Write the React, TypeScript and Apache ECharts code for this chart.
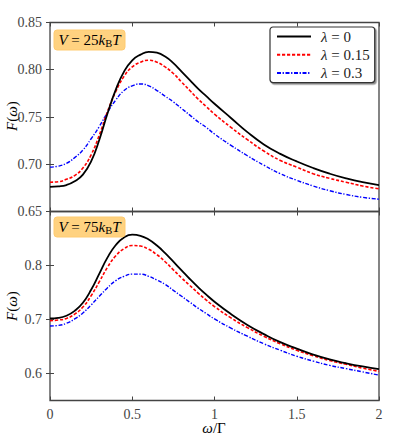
import React, { useEffect, useRef } from "react";
import * as echarts from "echarts";

// ω/Γ sample grid
const omega = [0, 0.05, 0.1, 0.15, 0.2, 0.25, 0.3, 0.35, 0.4, 0.45, 0.5, 0.55, 0.6, 0.65, 0.7, 0.75, 0.8, 0.85, 0.9, 0.95, 1.0,
  1.1, 1.2, 1.3, 1.4, 1.5, 1.6, 1.7, 1.8, 1.9, 2.0];

// Top panel: V = 25 kB T
const top_l0 = [0.676, 0.6765, 0.678, 0.682, 0.689, 0.703, 0.726, 0.754, 0.779, 0.798, 0.810, 0.816, 0.819, 0.818, 0.814, 0.807, 0.798, 0.789, 0.780, 0.772, 0.764,
  0.749, 0.734, 0.721, 0.711, 0.703, 0.696, 0.690, 0.685, 0.681, 0.678];
const top_l15 = [0.681, 0.6815, 0.684, 0.688, 0.696, 0.710, 0.731, 0.756, 0.777, 0.793, 0.803, 0.808, 0.810, 0.808, 0.803, 0.796, 0.787, 0.778, 0.769, 0.761, 0.753,
  0.739, 0.726, 0.714, 0.704, 0.697, 0.690, 0.685, 0.681, 0.677, 0.674];
const top_l3 = [0.697, 0.698, 0.701, 0.707, 0.715, 0.727, 0.740, 0.755, 0.768, 0.778, 0.783, 0.785, 0.783, 0.778, 0.772, 0.766, 0.759, 0.752, 0.745, 0.739, 0.732,
  0.720, 0.709, 0.699, 0.690, 0.683, 0.677, 0.672, 0.668, 0.665, 0.663];

// Bottom panel: V = 75 kB T
const bot_l0 = [0.702, 0.703, 0.707, 0.716, 0.731, 0.755, 0.785, 0.815, 0.838, 0.852, 0.857, 0.855, 0.848, 0.837, 0.823, 0.807, 0.791, 0.775, 0.760, 0.746, 0.733,
  0.710, 0.690, 0.673, 0.658, 0.646, 0.635, 0.626, 0.619, 0.613, 0.608];
const bot_l15 = [0.698, 0.699, 0.702, 0.710, 0.723, 0.744, 0.770, 0.797, 0.818, 0.831, 0.837, 0.836, 0.830, 0.820, 0.807, 0.792, 0.777, 0.763, 0.749, 0.736, 0.724,
  0.703, 0.685, 0.669, 0.655, 0.643, 0.633, 0.624, 0.617, 0.610, 0.604];
const bot_l3 = [0.688, 0.689, 0.693, 0.701, 0.712, 0.727, 0.743, 0.759, 0.772, 0.780, 0.784, 0.784, 0.780, 0.773, 0.765, 0.754, 0.743, 0.732, 0.721, 0.711, 0.701,
  0.684, 0.669, 0.655, 0.643, 0.632, 0.623, 0.615, 0.609, 0.603, 0.597];

const seriesNames = ["λ = 0", "λ = 0.15", "λ = 0.3"];
const panelVoltages = ["25", "75"];
const bottomYTicks = [0.6, 0.7, 0.8];

const FONT = "'Liberation Serif', 'DejaVu Serif', serif";
const AXIS_COLOR = "#444";

const pairs = (ys: number[]) => omega.map((x, i) => [x, ys[i]]);

export default function App() {
  const ref = useRef<HTMLDivElement>(null);
  useEffect(() => {
    if (!ref.current) return;
    const chart = echarts.init(ref.current, null, { renderer: "svg" });

    const gridL = 50, gridW = 329, gridH = 189;
    const topT = 22.5, botT = 211.5;

    const tick = { show: true, inside: true, length: 4, lineStyle: { color: AXIS_COLOR, width: 1 } };
    const noLine = { show: false };
    const lbl = { fontFamily: FONT, fontSize: 14, color: "#444", margin: 8 };

    const styles = [
      { color: "#000000", width: 1.8, type: "solid" as any },
      { color: "#ff0000", width: 1.6, type: [3.2, 1.8] as any },
      { color: "#0000ff", width: 1.4, type: [4, 1.6, 1.3, 1.6] as any },
    ];
    const topData = [top_l0, top_l15, top_l3];
    const botData = [bot_l0, bot_l15, bot_l3];

    const series: any[] = [];
    for (let k = 0; k < 3; k++) {
      series.push({
        name: seriesNames[k], type: "line", xAxisIndex: 0, yAxisIndex: 0,
        data: pairs(topData[k]), showSymbol: false, symbol: "none", smooth: 0.5,
        lineStyle: styles[k], itemStyle: { color: styles[k].color }, z: 3 - k,
      });
      series.push({
        name: seriesNames[k], type: "line", xAxisIndex: 2, yAxisIndex: 2,
        data: pairs(botData[k]), showSymbol: false, symbol: "none", smooth: 0.5,
        lineStyle: styles[k], itemStyle: { color: styles[k].color }, z: 3 - k,
      });
    }

    const xBase = { type: "value", min: 0, max: 2, interval: 0.5, axisLine: noLine, axisTick: tick, splitLine: { show: false } };

    const mathRich = {
      i: { fontFamily: FONT, fontStyle: "italic", fontSize: 15, color: "#222" },
      n: { fontFamily: FONT, fontSize: 15, color: "#222" },
      s: { fontFamily: FONT, fontSize: 10.5, color: "#222", padding: [7, 0, 0, 0] },
    };

    const panelGraphics: any[] = [];
    const boxTops = [30, 217];
    for (let p = 0; p < 2; p++) {
      panelGraphics.push({
        type: "rect", shape: { x: 54, y: boxTops[p], width: 71, height: 20, r: 3 },
        style: { fill: "#FFD280", stroke: "#FFCB70", lineWidth: 1 }, z: 10,
      });
      panelGraphics.push({
        type: "text", x: 89.5, y: boxTops[p] + 10, z: 11,
        style: {
          text: `{i|V}{n| = ${panelVoltages[p]}}{i|k}{s|B}{i|T}`,
          rich: mathRich, align: "center", verticalAlign: "middle",
        },
      });
    }

    const option: any = {
      animation: false,
      backgroundColor: "#ffffff",
      textStyle: { fontFamily: FONT },
      grid: [
        { left: gridL, top: topT, width: gridW, height: gridH, show: true, borderColor: AXIS_COLOR, borderWidth: 1.3, backgroundColor: "transparent" },
        { left: gridL, top: botT, width: gridW, height: gridH, show: true, borderColor: AXIS_COLOR, borderWidth: 1.3, backgroundColor: "transparent" },
      ],
      xAxis: [
        { ...xBase, gridIndex: 0, position: "bottom", axisLabel: { show: false } },
        { ...xBase, gridIndex: 0, position: "top", axisLabel: { show: false } },
        { ...xBase, gridIndex: 1, position: "bottom", axisLabel: { ...lbl, margin: 7, formatter: (v: number) => String(v) } },
        { ...xBase, gridIndex: 1, position: "top", axisLabel: { show: false } },
      ],
      yAxis: [
        { type: "value", gridIndex: 0, position: "left", min: 0.65, max: 0.85, interval: 0.05, axisLine: noLine, axisTick: tick, splitLine: { show: false },
          axisLabel: { ...lbl, formatter: (v: number) => v.toFixed(2) } },
        { type: "value", gridIndex: 0, position: "right", min: 0.65, max: 0.85, interval: 0.05, axisLine: noLine, axisTick: tick, splitLine: { show: false },
          axisLabel: { show: false } },
        { type: "value", gridIndex: 1, position: "left", min: 0.55, max: 0.9, axisLine: noLine,
          axisTick: { ...tick, customValues: bottomYTicks }, splitLine: { show: false },
          axisLabel: { ...lbl, customValues: bottomYTicks, formatter: (v: number) => v.toFixed(1) } },
        { type: "value", gridIndex: 1, position: "right", min: 0.55, max: 0.9, axisLine: noLine,
          axisTick: { ...tick, customValues: bottomYTicks }, splitLine: { show: false },
          axisLabel: { show: false, customValues: bottomYTicks } },
      ],
      legend: {
        data: seriesNames,
        orient: "vertical",
        left: 270, top: 27,
        itemWidth: 34, itemHeight: 14, itemGap: 3.3,
        padding: [2, 5, 2, 6],
        backgroundColor: "#ffffff",
        borderColor: "#333", borderWidth: 1.2, borderRadius: 3,
        shadowColor: "rgba(0,0,0,0.45)", shadowBlur: 1, shadowOffsetX: 1.5, shadowOffsetY: 1.5,
        itemStyle: { opacity: 0, borderWidth: 0 },
        formatter: (name: string) => `{i|λ}{n|${name.slice(1)}}`,
        textStyle: {
          padding: [0, 0, 0, 5],
          rich: {
            i: { fontFamily: FONT, fontStyle: "italic", fontSize: 15, color: "#222" },
            n: { fontFamily: FONT, fontSize: 15, color: "#222" },
          },
        },
      },
      graphic: [
        ...panelGraphics,
        { type: "text", x: 12, y: 116, rotation: Math.PI / 2, z: 5,
          style: { text: "{i|F}{n|(}{i|ω}{n|)}", rich: mathRich, align: "center", verticalAlign: "middle" } },
        { type: "text", x: 12, y: 306, rotation: Math.PI / 2, z: 5,
          style: { text: "{i|F}{n|(}{i|ω}{n|)}", rich: mathRich, align: "center", verticalAlign: "middle" } },
        { type: "text", x: 214, y: 428, z: 5,
          style: { text: "{i|ω}{n|/Γ}", rich: mathRich, align: "center", verticalAlign: "middle" } },
      ],
      series,
    };

    chart.setOption(option);
    return () => chart.dispose();
  }, []);

  return <div ref={ref} style={{ position: "fixed", left: 0, top: 0, width: 399, height: 446 }} />;
}
